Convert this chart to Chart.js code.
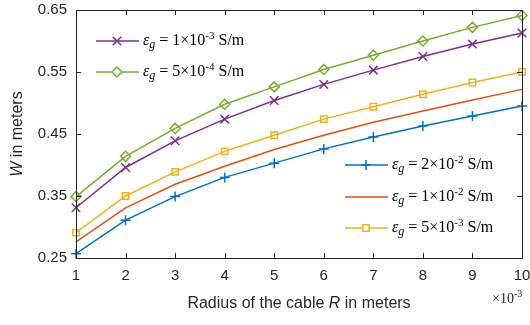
<!DOCTYPE html>
<html>
<head>
<meta charset="utf-8">
<script src="https://cdn.jsdelivr.net/npm/chart.js@4.4.1/dist/chart.umd.min.js"></script>
<style>
  body { margin: 0; background: #fff; }
  #wrap { width: 530px; height: 325px; }
</style>
</head>
<body>
<div id="wrap"><canvas id="chart" width="530" height="325"></canvas></div>
<script>
// Radius of the cable (x 1e-3 m)
const radius = [1, 2, 3, 4, 5, 6, 7, 8, 9, 10];

// W in meters for each ground conductivity
const w2e2 = [0.257, 0.311, 0.349, 0.380, 0.403, 0.426, 0.445, 0.463, 0.479, 0.495];
const w1e2 = [0.276, 0.331, 0.369, 0.398, 0.425, 0.448, 0.469, 0.487, 0.505, 0.522];
const w5e3 = [0.291, 0.350, 0.389, 0.422, 0.448, 0.474, 0.494, 0.514, 0.533, 0.550];
const w1e3 = [0.331, 0.396, 0.439, 0.474, 0.504, 0.530, 0.553, 0.575, 0.595, 0.613];
const w5e4 = [0.349, 0.414, 0.459, 0.498, 0.526, 0.554, 0.577, 0.600, 0.622, 0.641];

// legend text pieces: mantissa and exponent of sigma
const legendMant = ['2', '1', '5', '1', '5'];
const legendExp = ['-2', '-2', '-3', '-3', '-4'];

const yTicks = [0.25, 0.35, 0.45, 0.55, 0.65];
const xTicks = [1, 2, 3, 4, 5, 6, 7, 8, 9, 10];

const AX = '#262626';

function drawMarker(ctx, style, r, x, y, color) {
  ctx.save();
  ctx.strokeStyle = color;
  ctx.lineWidth = 1.5;
  ctx.beginPath();
  if (style === 'cross') {
    ctx.moveTo(x - r, y); ctx.lineTo(x + r, y);
    ctx.moveTo(x, y - r); ctx.lineTo(x, y + r);
  } else if (style === 'crossRot') {
    const d = r * Math.SQRT1_2;
    ctx.moveTo(x - d, y - d); ctx.lineTo(x + d, y + d);
    ctx.moveTo(x - d, y + d); ctx.lineTo(x + d, y - d);
  } else if (style === 'rect') {
    const d = r * Math.SQRT1_2;
    ctx.fillStyle = '#fff';
    ctx.rect(x - d, y - d, 2 * d, 2 * d);
    ctx.fill();
  } else if (style === 'rectRot') {
    ctx.fillStyle = '#fff';
    ctx.moveTo(x, y - r); ctx.lineTo(x + r, y);
    ctx.lineTo(x, y + r); ctx.lineTo(x - r, y);
    ctx.closePath();
    ctx.fill();
  }
  ctx.stroke();
  ctx.restore();
}

function drawLabel(ctx, x, y, mant, exp) {
  let cx = x;
  ctx.fillStyle = '#000';
  ctx.textAlign = 'left';
  ctx.textBaseline = 'alphabetic';
  ctx.font = 'italic 16px "Liberation Serif"';
  ctx.fillText('\u03b5', cx, y);
  cx += ctx.measureText('\u03b5').width;
  ctx.font = 'italic 12px "Liberation Serif"';
  ctx.fillText('g', cx, y + 3);
  cx += ctx.measureText('g').width;
  ctx.font = '16px "Liberation Serif"';
  let t = ' = ' + mant + '\u00d710';
  ctx.fillText(t, cx, y);
  cx += ctx.measureText(t).width;
  ctx.font = '11px "Liberation Serif"';
  ctx.fillText(exp, cx, y - 6);
  cx += ctx.measureText(exp).width;
  ctx.font = '16px "Liberation Serif"';
  ctx.fillText(' S/m', cx, y);
}

// legend entries: dataset index, line y, sample start x
const legendSlots = [
  { ds: 3, x: 96, y: 41 },
  { ds: 4, x: 96, y: 72 },
  { ds: 0, x: 345, y: 165 },
  { ds: 1, x: 345, y: 197 },
  { ds: 2, x: 345, y: 228 }
];

const decorPlugin = {
  id: 'decor',
  afterDraw(chart) {
    const ctx = chart.ctx;
    const a = chart.chartArea;
    const xs = chart.scales.x, ys = chart.scales.y;
    ctx.save();
    // box and inward ticks
    ctx.strokeStyle = AX;
    ctx.lineWidth = 1;
    ctx.strokeRect(Math.round(a.left) + 0.5, Math.round(a.top) + 0.5,
      Math.round(a.right - a.left), Math.round(a.bottom - a.top));
    ctx.beginPath();
    xTicks.forEach(v => {
      const px = Math.round(xs.getPixelForValue(v)) + 0.5;
      ctx.moveTo(px, a.bottom); ctx.lineTo(px, a.bottom - 5);
      ctx.moveTo(px, a.top); ctx.lineTo(px, a.top + 5);
    });
    yTicks.forEach(v => {
      const py = Math.round(ys.getPixelForValue(v)) + 0.5;
      ctx.moveTo(a.left, py); ctx.lineTo(a.left + 5, py);
      ctx.moveTo(a.right, py); ctx.lineTo(a.right - 5, py);
    });
    ctx.stroke();

    // legends
    legendSlots.forEach(s => {
      const ds = chart.data.datasets[s.ds];
      ctx.strokeStyle = ds.borderColor;
      ctx.lineWidth = 1.5;
      ctx.beginPath();
      ctx.moveTo(s.x, s.y); ctx.lineTo(s.x + 43, s.y);
      ctx.stroke();
      if (ds.pointRadius > 0) {
        drawMarker(ctx, ds.pointStyle, ds.pointRadius, s.x + 21, s.y, ds.borderColor);
      }
      drawLabel(ctx, s.x + 47, s.y + 4, legendMant[s.ds], legendExp[s.ds]);
    });

    // axis titles
    ctx.fillStyle = AX;
    ctx.textBaseline = 'middle';
    ctx.textAlign = 'left';
    const p1 = 'Radius of the cable ', p2 = 'R', p3 = ' in meters';
    ctx.font = '16px "Liberation Sans"';
    const w1 = ctx.measureText(p1).width, w3 = ctx.measureText(p3).width;
    ctx.font = 'italic 16px "Liberation Sans"';
    const w2 = ctx.measureText(p2).width;
    let tx = 299 - (w1 + w2 + w3) / 2;
    ctx.font = '16px "Liberation Sans"';
    ctx.fillText(p1, tx, 304);
    ctx.font = 'italic 16px "Liberation Sans"';
    ctx.fillText(p2, tx + w1, 304);
    ctx.font = '16px "Liberation Sans"';
    ctx.fillText(p3, tx + w1 + w2, 304);

    ctx.save();
    ctx.translate(18, 134);
    ctx.rotate(-Math.PI / 2);
    ctx.font = '16px "Liberation Sans"';
    const q2 = ' in meters';
    const wq2 = ctx.measureText(q2).width;
    ctx.font = 'italic 16px "Liberation Sans"';
    const wq1 = ctx.measureText('W').width;
    ctx.fillText('W', -(wq1 + wq2) / 2, 0);
    ctx.font = '16px "Liberation Sans"';
    ctx.fillText(q2, -(wq1 + wq2) / 2 + wq1, 0);
    ctx.restore();

    // x exponent
    ctx.textBaseline = 'alphabetic';
    ctx.font = '14px "Liberation Serif"';
    ctx.fillText('\u00d710', 492, 303);
    const wx = ctx.measureText('\u00d710').width;
    ctx.font = '10px "Liberation Serif"';
    ctx.fillText('-3', 492 + wx, 297);
    ctx.restore();
  }
};

new Chart(document.getElementById('chart'), {
  type: 'line',
  data: {
    labels: radius,
    datasets: [
      { data: w2e2, borderColor: '#0072BD', pointStyle: 'cross', pointRadius: 5 },
      { data: w1e2, borderColor: '#D95319', pointStyle: 'circle', pointRadius: 0 },
      { data: w5e3, borderColor: '#EDB120', pointStyle: 'rect', pointRadius: 4.5, pointBackgroundColor: 'rgba(0,0,0,0)' },
      { data: w1e3, borderColor: '#7E2F8E', pointStyle: 'crossRot', pointRadius: 6 },
      { data: w5e4, borderColor: '#77AC30', pointStyle: 'rectRot', pointRadius: 5, pointBackgroundColor: 'rgba(0,0,0,0)' }
    ].map(d => Object.assign({
      borderWidth: 1.5,
      pointBorderWidth: 1.5,
      pointBorderColor: d.borderColor,
      fill: false,
      tension: 0,
      clip: false
    }, d))
  },
  options: {
    responsive: false,
    animation: false,
    layout: { padding: { left: 0, right: 8, top: 10, bottom: 0 } },
    plugins: { legend: { display: false }, tooltip: { enabled: false } },
    scales: {
      x: {
        type: 'linear',
        min: 1, max: 10,
        afterBuildTicks: s => { s.ticks = xTicks.map(v => ({ value: v })); },
        afterFit: s => { s.height = 67; s.paddingLeft = 0; s.paddingRight = 0; },
        grid: { display: false, drawTicks: false },
        border: { display: false },
        ticks: { padding: 9, color: AX, font: { family: 'Liberation Sans', size: 15 }, maxRotation: 0 }
      },
      y: {
        min: 0.25, max: 0.65,
        afterBuildTicks: s => { s.ticks = yTicks.map(v => ({ value: v })); },
        afterFit: s => { s.width = 76; s.paddingTop = 0; s.paddingBottom = 0; },
        grid: { display: false, drawTicks: false },
        border: { display: false },
        ticks: { padding: 9, color: AX, font: { family: 'Liberation Sans', size: 15 }, callback: v => v.toFixed(2) }
      }
    }
  },
  plugins: [decorPlugin]
});
</script>
</body>
</html>
